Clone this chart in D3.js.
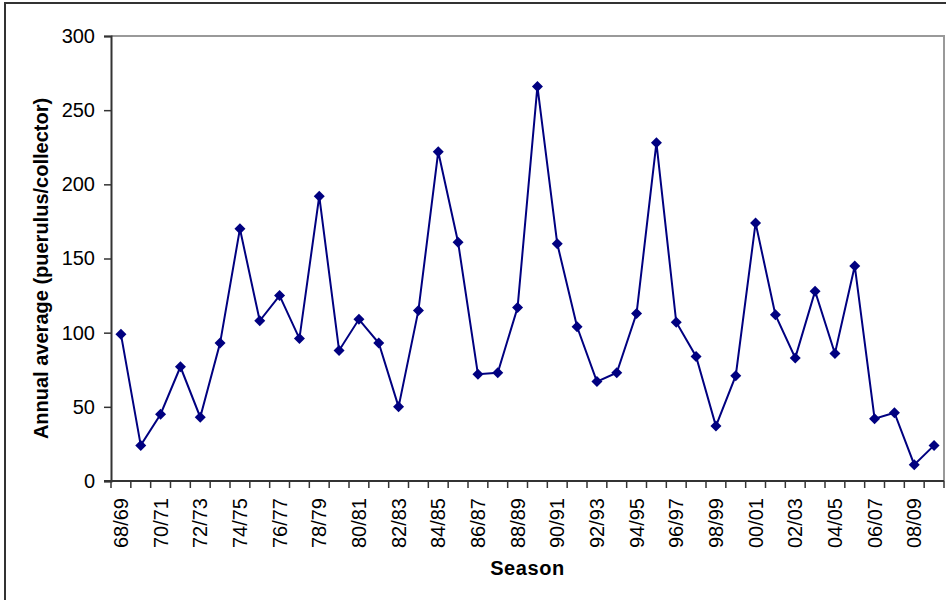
<!DOCTYPE html>
<html>
<head>
<meta charset="utf-8">
<script src="https://cdn.jsdelivr.net/npm/d3@7/dist/d3.min.js"></script>
<style>
  html, body { margin: 0; padding: 0; background: #fff; }
  svg { display: block; font-family: "Liberation Sans", Arial, sans-serif; }
</style>
</head>
<body>
<svg id="chart" width="946" height="600"></svg>
<script>
const seasons = ["68/69","69/70","70/71","71/72","72/73","73/74","74/75","75/76","76/77","77/78",
  "78/79","79/80","80/81","81/82","82/83","83/84","84/85","85/86","86/87","87/88",
  "88/89","89/90","90/91","91/92","92/93","93/94","94/95","95/96","96/97","97/98",
  "98/99","99/00","00/01","01/02","02/03","03/04","04/05","05/06","06/07","07/08",
  "08/09","09/10"];
const averages = [99,24,45,77,43,93,170,108,125,96,
  192,88,109,93,50,115,222,161,72,73,
  117,266,160,104,67,73,113,228,107,84,
  37,71,174,112,83,128,86,145,42,46,
  11,24];
const xTickLabels = ["68/69","70/71","72/73","74/75","76/77","78/79","80/81","82/83","84/85","86/87",
  "88/89","90/91","92/93","94/95","96/97","98/99","00/01","02/03","04/05","06/07","08/09"];
const yTicks = [0,50,100,150,200,250,300];
const yTitle = "Annual average (puerulus/collector)";
const xTitle = "Season";

const svg = d3.select("#chart");
const L = 111, R = 944, T = 36, B = 481;
const FONT = "Liberation Sans, Arial, sans-serif";

// outer frame
svg.append("rect").attr("x",5).attr("y",3).attr("width",960).attr("height",620)
  .attr("fill","none").attr("stroke","#333").attr("stroke-width",2);

const x = d3.scaleBand().domain(seasons).range([L, R]).padding(0);
const y = d3.scaleLinear().domain([0, 300]).range([B, T]);

// plot area top/right border
svg.append("path").attr("d", `M${L},${T}H${R}V${B}`)
  .attr("fill","none").attr("stroke","#999").attr("stroke-width",2);

// y axis
const yAxis = svg.append("g").attr("transform",`translate(${L},0)`)
  .call(d3.axisLeft(y).tickValues(yTicks).tickSize(7).tickPadding(9));
yAxis.select(".domain").attr("stroke","#333").attr("stroke-width",2);
yAxis.selectAll(".tick line").attr("stroke","#333").attr("stroke-width",1.5);
yAxis.selectAll(".tick text").attr("font-size",20).attr("fill","#000")
  .attr("font-family",FONT);

// x axis labels
const xAxis = svg.append("g").attr("transform",`translate(0,${B})`)
  .call(d3.axisBottom(x).tickValues(xTickLabels).tickSize(0).tickPadding(0));
xAxis.select(".domain").remove();
xAxis.selectAll(".tick text")
  .attr("font-size",20).attr("fill","#000")
  .attr("font-family",FONT)
  .attr("transform","rotate(-90)")
  .attr("text-anchor","end")
  .attr("x",-17).attr("y",0).attr("dy","0.35em");

// x baseline and boundary ticks
svg.append("line").attr("x1",L-7).attr("x2",R).attr("y1",B).attr("y2",B)
  .attr("stroke","#333").attr("stroke-width",2);
const bounds = seasons.map(s => x(s)).concat([R]);
svg.append("g").selectAll("line").data(bounds).join("line")
  .attr("x1",d=>d).attr("x2",d=>d).attr("y1",B).attr("y2",B+7)
  .attr("stroke","#333").attr("stroke-width",1.5);

// line
const cx = s => x(s) + x.bandwidth()/2;
const data = seasons.map((s,i)=>({s, v: averages[i]}));
svg.append("path").datum(data)
  .attr("d", d3.line().x(d=>cx(d.s)).y(d=>y(d.v)))
  .attr("fill","none").attr("stroke","#000080").attr("stroke-width",2);

// diamond markers
const dsz = 5.5;
svg.append("g").selectAll("path").data(data).join("path")
  .attr("d", d => { const px = cx(d.s), py = y(d.v);
    return `M${px},${py-dsz}L${px+dsz},${py}L${px},${py+dsz}L${px-dsz},${py}Z`; })
  .attr("fill","#000080");

// titles
svg.append("text").attr("x",(L+R)/2).attr("y",575).attr("text-anchor","middle")
  .attr("font-family",FONT)
  .attr("font-size",20).attr("font-weight","bold").attr("letter-spacing",0.6).text(xTitle);
svg.append("text").attr("transform",`translate(48,${(T+B)/2+10}) rotate(-90)`)
  .attr("font-family",FONT)
  .attr("text-anchor","middle").attr("font-size",20).attr("font-weight","bold").text(yTitle);
</script>
</body>
</html>
